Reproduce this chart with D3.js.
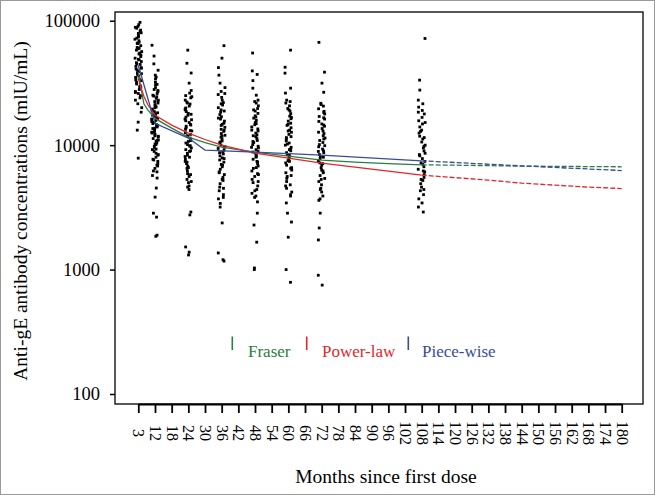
<!DOCTYPE html>
<html><head><meta charset="utf-8">
<script src="https://cdn.jsdelivr.net/npm/d3@7"></script>
<style>body{margin:0;background:#fff} svg{display:block} text{font-family:"Liberation Serif","Times New Roman",serif}</style>
</head><body><svg id="c" width="655" height="495"></svg>
<script>
// ---- data ----
const obsMonths = [3, 12, 24, 36, 48, 60, 72, 108];
const obs3 = [97000, 93000, 90000, 87000, 84000, 82000, 79000, 76000, 74000, 71000, 69000, 67000, 65500, 63000, 61000, 59500, 58000, 56500, 55000, 53000, 51500, 50000, 48500, 47000, 46000, 44500, 43000, 42000, 41000, 40000, 39000, 38000, 37000, 36000, 35000, 34000, 33000, 32000, 31000, 30000, 29000, 28000, 27000, 26000, 25000, 24000, 23000, 21500, 20000, 18400, 15300, 13200, 7860,
  88500, 80000, 72500, 66000, 60000, 54000, 49000, 45000, 41500, 37500, 33500, 29500, 26500];
const obs12 = [63500, 52000, 45000, 40000, 36500, 34000, 32000, 30500, 29000, 28000, 27000, 26000, 25200, 24500, 23800, 23000, 22400, 21800, 21200, 20600, 20000, 19500, 19000, 18600, 18200, 17800, 17400, 17000, 16600, 16200, 15800, 15500, 15200, 14900, 14600, 14300, 14000, 13700, 13400, 13100, 12800, 12500, 12200, 11900, 11600, 11300, 11000, 10700, 10400, 10100, 9800, 9500, 9200, 8900, 8600, 8300, 8000, 7700, 7400, 7100, 6800, 6500, 6200, 5440, 4520, 3820, 2840, 2640, 1890, 1850,
  35200, 30800, 27500, 24800, 22700, 20300, 18900, 17600, 16400, 15300, 14400, 13600, 12700, 11800, 10900, 10200, 9300, 8400, 7600, 6900, 6100, 5700];
const obs24 = [58000, 45500, 38000, 31500, 27500, 26200, 25000, 24000, 23000, 22200, 21400, 20600, 19900, 19200, 18600, 18000, 17400, 16800, 16200, 15700, 15200, 14700, 14200, 13800, 13400, 13000, 12600, 12200, 11800, 11400, 11000, 10700, 10400, 10100, 9800, 9500, 9200, 8900, 8600, 8300, 8000, 7700, 7400, 7100, 6800, 6500, 6200, 5900, 5600, 5300, 5000, 4700, 4400, 2900, 2750, 1520, 1380, 1310,
  24500, 21800, 19500, 17700, 16000, 14500, 13100, 11900, 10900, 9900, 9000, 8100, 7300, 6600, 5800, 5100, 4600];
const obs36 = [63000, 50000, 42000, 36500, 31500, 29000, 27000, 25500, 24200, 23000, 22000, 21000, 20000, 19200, 18400, 17600, 16900, 16200, 15600, 15000, 14400, 13900, 13400, 12900, 12400, 12000, 11600, 11200, 10800, 10400, 10000, 9700, 9400, 9100, 8800, 8500, 8200, 7900, 7600, 7300, 7000, 6700, 6400, 6100, 5800, 5500, 5200, 4900, 4600, 4300, 4000, 3700, 3400, 3180, 2370, 1360, 1200, 1170,
  26000, 21500, 18800, 16500, 14700, 13200, 11800, 10600, 9600, 8700, 7800, 6900, 6000, 5300, 4500, 3800];
const obs48 = [55000, 39500, 37000, 33000, 28700, 25200, 23000, 21800, 20700, 19700, 18800, 18000, 17200, 16500, 15800, 15200, 14600, 14000, 13500, 13000, 12500, 12100, 11700, 11300, 10900, 10500, 10100, 9800, 9500, 9200, 8900, 8600, 8300, 8000, 7700, 7400, 7100, 6800, 6500, 6200, 5900, 5600, 5300, 5000, 4700, 4400, 4100, 3800, 3500, 2840, 2280, 1660, 1030, 1000,
  22400, 19200, 16800, 14900, 13200, 11900, 10700, 9600, 8800, 8100, 7300, 6600, 5800, 5100, 4300, 3900];
const obs60 = [58000, 42300, 37900, 28700, 26200, 23000, 21800, 20700, 19700, 18800, 17900, 17100, 16300, 15600, 15000, 14400, 13800, 13200, 12700, 12200, 11700, 11200, 10800, 10400, 10000, 9600, 9300, 9000, 8700, 8400, 8100, 7800, 7500, 7200, 6900, 6600, 6300, 6000, 5700, 5400, 5100, 4800, 4500, 4200, 3900, 3430, 2840, 2410, 1820, 1000, 790,
  22400, 19200, 16700, 14700, 13000, 11500, 10200, 9200, 8300, 7400, 6500, 5600, 4700, 4000];
const obs72 = [67000, 38600, 31500, 26600, 21700, 20600, 19600, 18700, 17800, 17000, 16200, 15500, 14800, 14200, 13600, 13000, 12400, 11900, 11400, 10900, 10500, 10100, 9700, 9300, 9000, 8700, 8400, 8100, 7800, 7500, 7200, 6900, 6600, 6300, 6000, 5700, 5400, 5100, 4800, 4500, 4200, 3900, 3600, 2840, 2160, 1730, 900, 750,
  21200, 18300, 16600, 14500, 12700, 11200, 9900, 8900, 8000, 7100, 6200, 5300, 4400, 3700];
const obs108 = [72000, 33300, 27700, 23000, 20200, 19000, 17800, 16700, 15700, 14800, 14000, 13200, 12500, 11800, 11200, 10600, 10000, 9500, 9000, 8600, 8200, 7800, 7400, 7000, 6700, 6400, 6100, 5800, 5500, 5200, 4900, 4600, 4300, 4000, 3700, 3430, 3180, 2900,
  21500, 18400, 15200, 12900, 11500, 9800, 8400, 7200, 6200, 5300, 4400];
const obsValues = [obs3, obs12, obs24, obs36, obs48, obs60, obs72, obs108];

const tickMonths = [3, 12, 18, 24, 30, 36, 42, 48, 54, 60, 66, 72, 78, 84, 90, 96, 102, 108, 114, 120, 126, 132, 138, 144, 150, 156, 162, 168, 174, 180];
const yTicks = [100, 1000, 10000, 100000];

// fitted curves (observed period, solid)
const fraserMonths = [3, 4, 5, 6, 8, 12, 18, 24, 30, 36, 48, 60, 72, 84, 96, 108];
const fraserFit = [38600, 31500, 26000, 21500, 19300, 16400, 13700, 11600, 10500, 9640, 8790, 8160, 7580, 7300, 7100, 6950];
const powerMonths = [3, 4, 6, 8, 12, 18, 24, 30, 36, 48, 60, 72, 84, 96, 108];
const powerFit = [35000, 30300, 24700, 21300, 17400, 14500, 12500, 11100, 10000, 8620, 7860, 7170, 6650, 6180, 5740];
const pieceMonths = [3, 12, 24, 30, 48, 72, 108];
const pieceFit = [43900, 15000, 11400, 9120, 8800, 8300, 7480];
// projections (dashed)
const fraserProjMonths = [108, 120, 144, 180];
const fraserProj = [6950, 6900, 6780, 6700];
const powerProjMonths = [108, 120, 132, 144, 156, 168, 180];
const powerProj = [5740, 5480, 5240, 4950, 4770, 4600, 4480];
const pieceProjMonths = [108, 144, 180];
const pieceProj = [7480, 6810, 6250];

const seriesNames = ["Fraser", "Power-law", "Piece-wise"];
const seriesColors = ["#2a7d40", "#e2262b", "#3a4a98"];

// ---- drawing ----
const svg = d3.select("#c");
const L = 115, R = 643, T = 12, B = 404;

svg.append("rect").attr("x", 0.5).attr("y", 0.5).attr("width", 654).attr("height", 494)
  .attr("fill", "#fff").attr("stroke", "#9a9a9a");

const x = d3.scaleLinear().domain([3, 12, 180]).range([138.3, 155, 621.7]);
const y = d3.scaleLog().domain([83.1, 117500]).range([B, T]);

// deterministic horizontal jitter (display only)
const hash = (a) => { const s = Math.sin(a) * 43758.5453; return s - Math.floor(s); };
const pts = [];
obsMonths.forEach((m, k) => {
  obsValues[k].forEach((v, i) => {
    const j = (hash((i + 1) * 12.9898 + (k + 1) * 78.233) - 0.5) * 7;
    pts.push({m, v, j});
  });
});
svg.append("g").selectAll("rect").data(pts).join("rect")
  .attr("x", d => x(d.m) + d.j - 1.4)
  .attr("y", d => y(d.v) - 1.4)
  .attr("width", 2.8).attr("height", 2.8).attr("fill", "#000");

// curves
const line = d3.line().x(d => x(d[0])).y(d => y(d[1]));
const solid = [[fraserMonths, fraserFit], [powerMonths, powerFit], [pieceMonths, pieceFit]];
const dashed = [[fraserProjMonths, fraserProj], [powerProjMonths, powerProj], [pieceProjMonths, pieceProj]];
solid.forEach((s, i) => {
  svg.append("path").attr("d", line(d3.zip(s[0], s[1])))
    .attr("fill", "none").attr("stroke", seriesColors[i]).attr("stroke-width", 1.3);
});
dashed.forEach((s, i) => {
  svg.append("path").attr("d", line(d3.zip(s[0], s[1])))
    .attr("fill", "none").attr("stroke", seriesColors[i]).attr("stroke-width", 1.3)
    .attr("stroke-dasharray", "5,2");
});

// panel border
svg.append("rect").attr("x", L).attr("y", T).attr("width", R - L).attr("height", B - T)
  .attr("fill", "none").attr("stroke", "#000").attr("stroke-width", 1.3);

// y axis
const ya = svg.append("g").attr("transform", `translate(${L},0)`)
  .call(d3.axisLeft(y).tickValues(yTicks).tickFormat(d3.format("d")).tickSize(5).tickPadding(10).tickSizeOuter(0));
ya.select(".domain").remove();
ya.selectAll("line").attr("stroke-width", 1.5);
ya.selectAll("text").style("font-size", "18.5px").attr("fill", "#000");

// x axis
const xa = svg.append("g").attr("transform", `translate(0,${B})`)
  .call(d3.axisBottom(x).tickValues(tickMonths).tickFormat(d3.format("d")).tickSize(9).tickSizeOuter(0));
xa.select(".domain").attr("stroke-width", 1.8);
xa.selectAll("line").attr("stroke-width", 1.8);
xa.selectAll("text")
  .attr("transform", "rotate(90)").attr("x", 29).attr("y", 0).attr("dy", "0.35em")
  .style("text-anchor", "middle").style("font-size", "16px").attr("fill", "#000");

// titles
svg.append("text").attr("transform", "translate(27,211) rotate(-90)")
  .attr("text-anchor", "middle").style("font-size", "19.5px")
  .text("Anti-gE antibody concentrations (mlU/mL)");
svg.append("text").attr("x", 386).attr("y", 483)
  .attr("text-anchor", "middle").style("font-size", "19.5px")
  .text("Months since first dose");

// legend
const legTickX = [232.3, 306.7, 408.3];
const legTextX = [248, 322, 422];
seriesNames.forEach((n, i) => {
  svg.append("line").attr("x1", legTickX[i]).attr("x2", legTickX[i]).attr("y1", 336.5).attr("y2", 350)
    .attr("stroke", seriesColors[i]).attr("stroke-width", 1.6);
  svg.append("text").attr("x", legTextX[i]).attr("y", 357).style("font-size", "17px")
    .attr("fill", seriesColors[i]).text(n);
});
</script></body></html>
